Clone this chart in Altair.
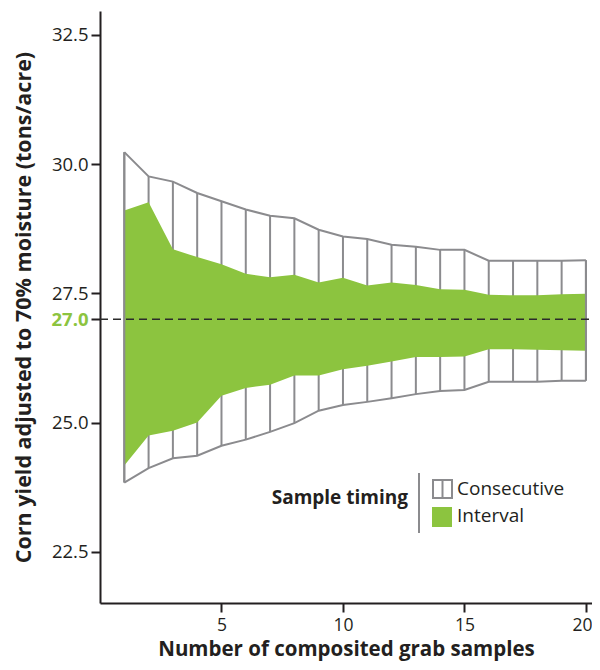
import altair as alt
import pandas as pd

samples = list(range(1, 21))
consec_upper = [30.23, 29.76, 29.66, 29.44, 29.28, 29.12, 29.00, 28.95, 28.73, 28.60,
                28.55, 28.44, 28.40, 28.34, 28.34, 28.13, 28.13, 28.13, 28.13, 28.14]
consec_lower = [23.84, 24.12, 24.31, 24.36, 24.55, 24.67, 24.82, 24.99, 25.23, 25.34,
                25.40, 25.47, 25.55, 25.61, 25.63, 25.79, 25.79, 25.79, 25.81, 25.81]
interval_upper = [29.10, 29.26, 28.35, 28.20, 28.06, 27.88, 27.81, 27.86, 27.71, 27.80,
                  27.65, 27.71, 27.66, 27.58, 27.57, 27.47, 27.46, 27.46, 27.48, 27.49]
interval_lower = [24.17, 24.75, 24.84, 25.00, 25.52, 25.67, 25.73, 25.91, 25.91, 26.03,
                  26.10, 26.18, 26.27, 26.27, 26.28, 26.42, 26.42, 26.41, 26.40, 26.39]
target = 27.0
legend_title = "Sample timing"
legend_labels = ["Consecutive", "Interval"]

GREEN = "#8cc43f"
GRAY = "#8b8b8e"
DARK = "#231f20"
FONT = "Open Sans"

df = pd.DataFrame({
    "n": samples,
    "cu": consec_upper,
    "cl": consec_lower,
    "iu": interval_upper,
    "il": interval_lower,
})

W = 492
xs = alt.Scale(domain=[0, 20.25], nice=False, zero=False)
ys = alt.Scale(domain=[21.51, 32.96], nice=False, zero=False)

xaxis = alt.Axis(values=[5, 10, 15, 20], title="Number of composited grab samples",
                 grid=False, domainColor=DARK, domainWidth=2, tickColor=DARK,
                 tickWidth=2, tickSize=9, labelFont=FONT, labelFontSize=17.5,
                 labelColor=DARK, labelPadding=4, labelFlush=8, labelFlushOffset=6,
                 titleFont=FONT, titleFontSize=20.5,
                 titleFontWeight="bold", titleColor=DARK, titlePadding=6)
yaxis = alt.Axis(values=[22.5, 25, 27, 27.5, 30, 32.5], format=".1f",
                 title="Corn yield adjusted to 70% moisture (tons/acre)",
                 grid=False, domainColor=DARK, domainWidth=2, tickColor=DARK,
                 tickWidth=2, tickSize=9, labelFont=FONT, labelFontSize=18.5,
                 labelColor={"condition": {"test": "datum.value === 27", "value": GREEN}, "value": DARK},
                 labelFontWeight={"condition": {"test": "datum.value === 27", "value": "bold"}, "value": "normal"},
                 labelOverlap=False, labelPadding=3, titleFont=FONT, titleFontSize=21.5,
                 titleFontWeight="bold", titleColor=DARK, titlePadding=15)

base = alt.Chart(df)

white_band = base.mark_area(color="white").encode(
    x=alt.X("n:Q", scale=xs, axis=xaxis),
    y=alt.Y("cl:Q", scale=ys, axis=yaxis),
    y2="cu:Q",
)
upper_line = base.mark_line(color=GRAY, strokeWidth=2).encode(x=alt.X("n:Q", scale=xs), y=alt.Y("cu:Q", scale=ys))
lower_line = base.mark_line(color=GRAY, strokeWidth=2).encode(x=alt.X("n:Q", scale=xs), y=alt.Y("cl:Q", scale=ys))
rules = base.mark_rule(color=GRAY, strokeWidth=2).encode(
    x=alt.X("n:Q", scale=xs), y=alt.Y("cl:Q", scale=ys), y2="cu:Q")
green = base.mark_area(color=GREEN, opacity=1).encode(
    x=alt.X("n:Q", scale=xs), y=alt.Y("il:Q", scale=ys), y2="iu:Q")
edge_rules = base.mark_rule(color=GRAY, strokeWidth=2).encode(
    x=alt.X("n:Q", scale=xs), y=alt.Y("cl:Q", scale=ys), y2="cu:Q"
).transform_filter("datum.n === 1 || datum.n === 20")

dash = alt.Chart(pd.DataFrame({"t": [target]})).mark_rule(
    color="#2b2b2b", strokeWidth=1.5, strokeDash=[8, 5]).encode(
    y=alt.Y("t:Q", scale=ys), x=alt.value(0), x2=alt.value(W))

# legend (drawn as annotation)
leg = alt.Chart(pd.DataFrame({"a": [0]}))
leg_title = leg.mark_text(text=legend_title, font=FONT, fontSize=19, fontWeight="bold",
                          color=DARK, align="right", baseline="middle").encode(
    x=alt.value(308), y=alt.value(487))
sep = leg.mark_rule(color=GRAY, strokeWidth=2).encode(
    x=alt.value(319), y=alt.value(462), y2=alt.value(522))
sw1 = leg.mark_rect(fill="white", stroke=GRAY, strokeWidth=2).encode(
    x=alt.value(333), x2=alt.value(352), y=alt.value(469), y2=alt.value(487))
sw1_line = leg.mark_rule(color=GRAY, strokeWidth=2).encode(
    x=alt.value(342.5), y=alt.value(469), y2=alt.value(487))
sw2 = leg.mark_rect(fill=GREEN).encode(
    x=alt.value(332), x2=alt.value(352), y=alt.value(496), y2=alt.value(516))
lab1 = leg.mark_text(text=legend_labels[0], font=FONT, fontSize=19, color=DARK,
                     align="left", baseline="middle").encode(x=alt.value(357), y=alt.value(478))
lab2 = leg.mark_text(text=legend_labels[1], font=FONT, fontSize=19, color=DARK,
                     align="left", baseline="middle").encode(x=alt.value(357), y=alt.value(505))

chart = alt.layer(
    white_band, rules, upper_line, lower_line, green, edge_rules, dash,
    leg_title, sep, sw1, sw1_line, sw2, lab1, lab2
).properties(
    width=W, height=592,
    autosize=alt.AutoSizeParams(type="none"),
    padding={"left": 92, "top": 3, "right": 0, "bottom": 59},
).configure_view(stroke=None)

chart.save("out.html", embed_options={"renderer": "svg", "actions": False})
